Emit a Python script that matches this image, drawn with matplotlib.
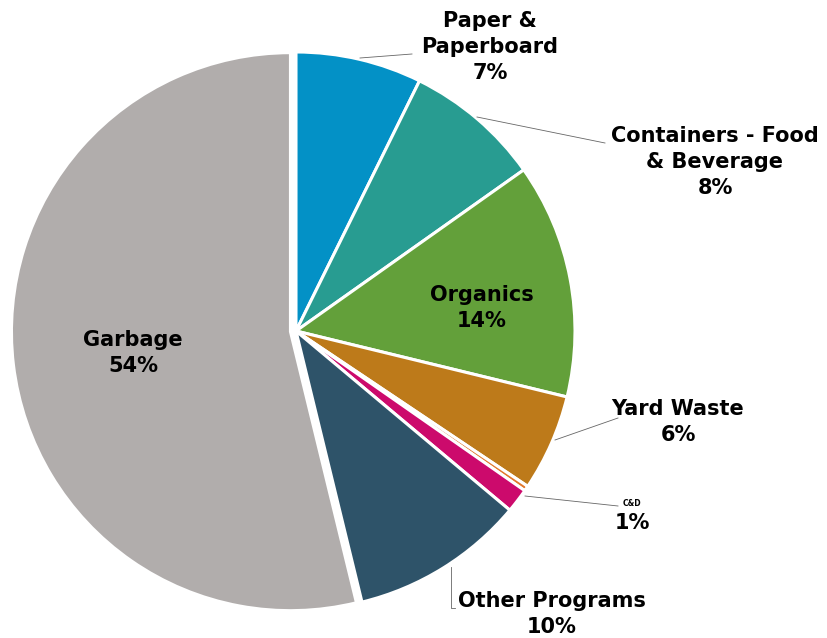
import numpy as np
import matplotlib
matplotlib.use("Agg")
import matplotlib.pyplot as plt

# waste stream shares (%), clockwise from 12 o'clock
names = ["Paper &\nPaperboard", "Containers - Food\n& Beverage", "Organics",
         "Yard Waste", "Other", "C&D", "Other Programs", "Garbage"]
shares = [7.3, 7.9, 13.6, 5.6, 0.3, 1.4, 10.1, 53.8]
colors = ["#0391c6", "#289c91", "#63a03a", "#bd7a1a", "#e2782c",
          "#cc0a6c", "#2e5369", "#b1adac"]
explode = [0, 0, 0, 0, 0, 0, 0, 0.02]

W, H = 827, 638
cx, cy, R = 296, 331, 279


def px(x, y):
    # pixel position -> data coords (radius = 1)
    return (x - cx) / R, (cy - y) / R


fig = plt.figure(figsize=(W / 100, H / 100), dpi=100)
ax = fig.add_axes([0, 0, 1, 1])

ax.pie(shares, colors=colors, startangle=90, counterclock=False,
       explode=explode, radius=1,
       wedgeprops=dict(edgecolor="white", linewidth=2.2))

ax.set_xlim(-cx / R, (W - cx) / R)
ax.set_ylim(-(H - cy) / R, cy / R)
ax.set_aspect("equal")
ax.axis("off")

pct = [f"{round(v):.0f}%" for v in shares]
tk = dict(fontsize=15, fontweight="bold", ha="center", va="center",
          color="black", linespacing=1.38, family="DejaVu Sans")

# inside labels
ax.text(*px(482, 308), f"{names[2]}\n{pct[2]}", **tk)
ax.text(*px(133, 353), f"{names[7]}\n{pct[7]}", **tk)

# outside labels
ax.text(*px(490, 47), f"{names[0]}\n{pct[0]}", **tk)
ax.text(*px(715, 162), f"{names[1]}\n{pct[1]}", **tk)
ax.text(*px(678, 422), f"{names[3]}\n{pct[3]}", **tk)
ax.text(*px(552, 614), f"{names[6]}\n{pct[6]}", **tk)
ax.text(*px(632, 503), names[5], fontsize=5.5, fontweight="bold",
        ha="center", va="center", color="black")
ax.text(*px(632, 523), pct[5], **tk)

# leader lines
leaders = [
    [(360, 58), (412, 54)],
    [(477, 117), (605, 143)],
    [(555, 440), (618, 418)],
    [(525, 496), (618, 506)],
    [(451, 567), (451, 608), (455, 608)],
]
for pts in leaders:
    xy = np.array([px(x, y) for x, y in pts])
    ax.plot(xy[:, 0], xy[:, 1], color="#666666", linewidth=0.6)

fig.savefig("out.png", dpi=100)
